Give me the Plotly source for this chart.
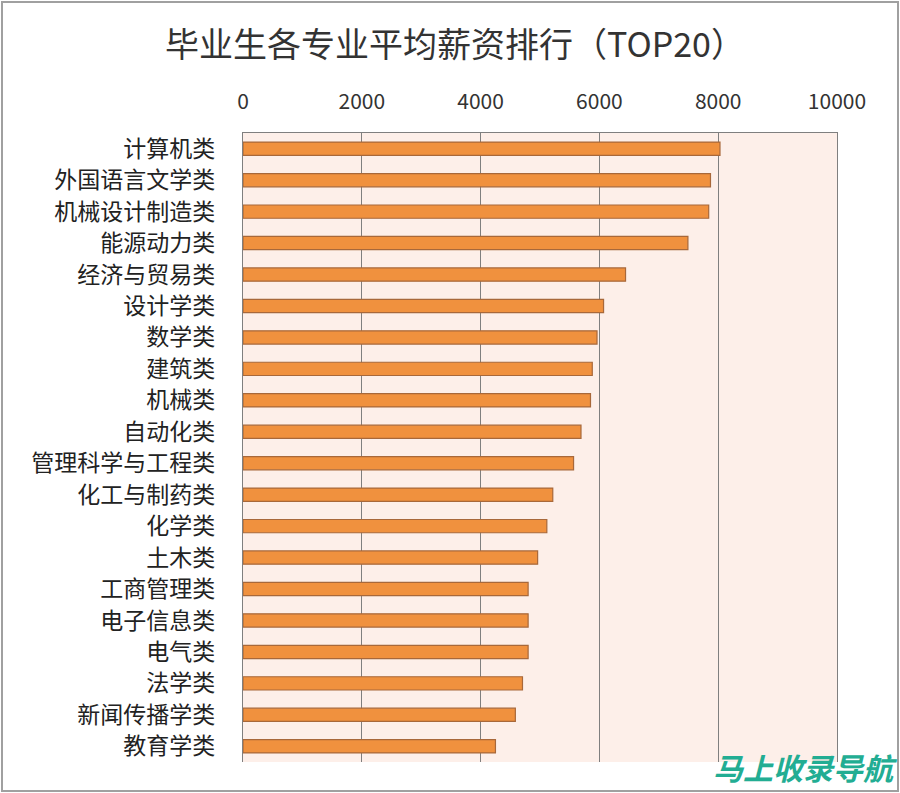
import plotly.graph_objects as go

categories = ["计算机类", "外国语言文学类", "机械设计制造类", "能源动力类", "经济与贸易类",
              "设计学类", "数学类", "建筑类", "机械类", "自动化类",
              "管理科学与工程类", "化工与制药类", "化学类", "土木类", "工商管理类",
              "电子信息类", "电气类", "法学类", "新闻传播学类", "教育学类"]
salaries = [8030, 7870, 7840, 7490, 6440,
            6070, 5960, 5880, 5850, 5690,
            5565, 5215, 5115, 4960, 4800,
            4800, 4800, 4705, 4585, 4250]
x_ticks = [0, 2000, 4000, 6000, 8000, 10000]

font_cjk = "Noto Sans CJK SC, Noto Sans, sans-serif"

W, H = 900, 793
ML, MR, MT, MB = 243, 63, 133, 31
PW, PH = W - ML - MR, H - MT - MB


def px_x(px):
    return (px - ML) / PW


def px_y(py):
    return (H - MB - py) / PH


fig = go.Figure()
fig.add_trace(go.Bar(
    y=categories, x=salaries, orientation="h",
    marker=dict(color="#f0913e", line=dict(color="#a8683a", width=1.2)),
    width=0.42,
))

fig.update_layout(
    width=W, height=H,
    margin=dict(l=ML, r=MR, t=MT, b=MB),
    paper_bgcolor="white",
    plot_bgcolor="#fdefe9",
    showlegend=False,
    font=dict(family=font_cjk, color="#222"),
    title=dict(text="毕业生各专业平均薪资排行（TOP20）", x=455 / W, xanchor="center",
               xref="container", yref="container", y=1 - 45 / H, yanchor="middle",
               font=dict(size=34, color="#333", family=font_cjk)),
    xaxis=dict(
        side="top", range=[0, 10000], tickvals=x_ticks,
        ticktext=[str(v) for v in x_ticks],
        showgrid=True, gridcolor="#7f7f7f", gridwidth=1.2,
        showline=True, linecolor="#7f7f7f", linewidth=1.2,
        zeroline=False,
        ticks="outside", ticklen=15, tickcolor="rgba(0,0,0,0)",
        tickfont=dict(size=21, color="#333", family=font_cjk),
        fixedrange=True,
    ),
    yaxis=dict(
        autorange="reversed",
        showline=True, mirror=True, linecolor="#7f7f7f", linewidth=1.2,
        showgrid=False,
        ticks="outside", ticklen=22, tickcolor="rgba(0,0,0,0)",
        tickfont=dict(size=23, color="#222", family=font_cjk),
    ),
    annotations=[
        dict(text="<b><i>马上收录导航</i></b>", x=px_x(900), y=px_y(791), xref="paper", yref="paper",
             showarrow=False, font=dict(size=30, color="#22ad93", family=font_cjk),
             xanchor="right", yanchor="bottom"),
    ],
    shapes=[
        dict(type="rect", xref="paper", yref="paper",
             x0=px_x(2), x1=px_x(898), y0=px_y(791), y1=px_y(2),
             line=dict(color="#a0a0a0", width=2), layer="below"),
    ],
)

fig.write_html("out.html")
